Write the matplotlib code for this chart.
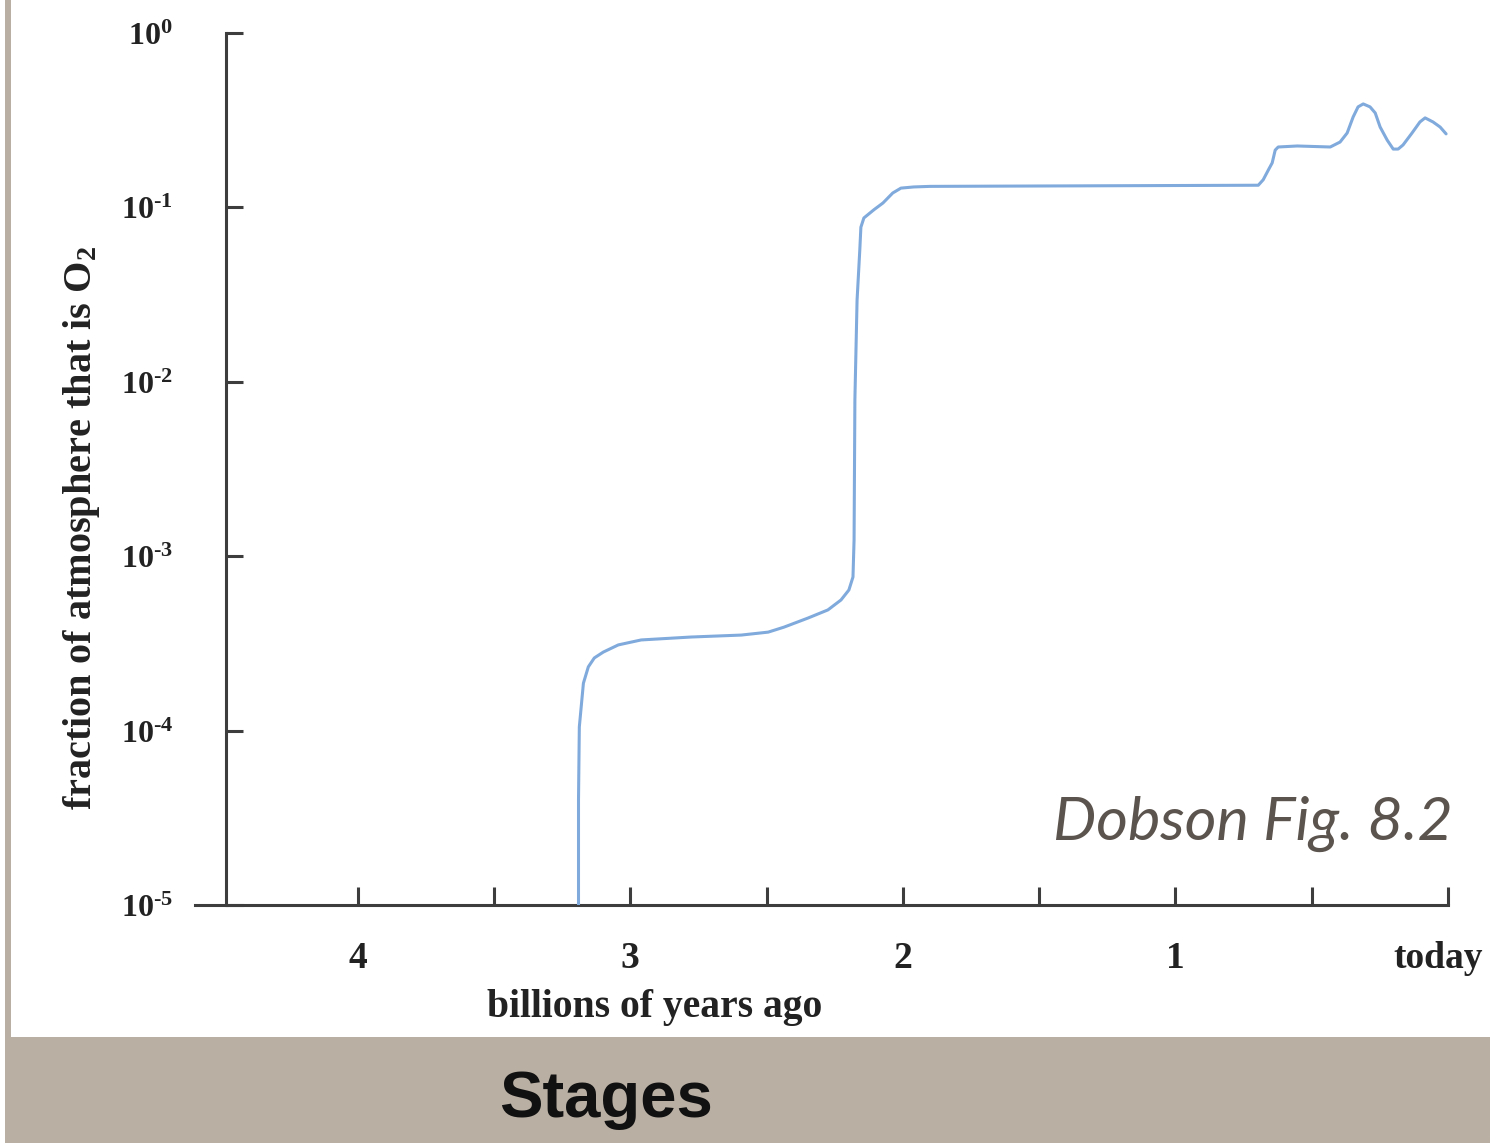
import numpy as np
import matplotlib.pyplot as plt
from matplotlib.patches import Rectangle
import matplotlib.transforms as mtransforms

plt.rcParams['mathtext.fontset'] = 'custom'
plt.rcParams['mathtext.rm'] = 'Liberation Serif:bold'
plt.rcParams['mathtext.it'] = 'Liberation Serif:bold'
plt.rcParams['mathtext.bf'] = 'Liberation Serif:bold'

# oxygen history, age in billions of years ago
age = [3.190, 3.190, 3.187, 3.172, 3.154, 3.132, 3.099, 3.044, 2.960, 2.777,
       2.593, 2.494, 2.436, 2.348, 2.275, 2.227, 2.198, 2.183, 2.179, 2.176,
       2.168, 2.158, 2.154, 2.143, 2.106, 2.073, 2.037, 2.007, 1.960,
       1.900, 0.696, 0.678, 0.659, 0.645, 0.634, 0.623, 0.553, 0.432, 0.396,
       0.370, 0.348, 0.330, 0.311, 0.286, 0.267, 0.249, 0.223, 0.201, 0.183,
       0.165, 0.132, 0.103, 0.084, 0.055, 0.029, 0.007]
o2_frac = [1.0e-5, 4.0e-5, 1.05e-4, 1.87e-4, 2.32e-4, 2.61e-4, 2.82e-4, 3.10e-4, 3.31e-4, 3.44e-4,
           3.53e-4, 3.67e-4, 3.92e-4, 4.42e-4, 4.92e-4, 5.61e-4, 6.40e-4, 7.60e-4, 1.24e-3, 7.9e-3,
           2.94e-2, 0.057, 0.077, 0.087, 0.097, 0.106, 0.121, 0.129, 0.131,
           0.132, 0.134, 0.144, 0.164, 0.180, 0.213, 0.222, 0.225, 0.222, 0.237,
           0.267, 0.330, 0.377, 0.392, 0.377, 0.348, 0.289, 0.243, 0.216, 0.216,
           0.228, 0.267, 0.309, 0.326, 0.309, 0.289, 0.264]

xticks = [4, 3.5, 3, 2.5, 2, 1.5, 1, 0.5, 0]
xticklabels = ['4', '', '3', '', '2', '', '1', '', 'today']
yticks = [1e-5, 1e-4, 1e-3, 1e-2, 1e-1, 1e0]
yticklabels = ['$10^{\u20105}$', '$10^{\u20104}$', '$10^{\u20103}$',
               '$10^{\u20102}$', '$10^{\u20101}$', '$10^{0}$']

W, H = 1490, 1143
fig = plt.figure(figsize=(W / 100, H / 100), dpi=100)
fig.patch.set_facecolor('white')

# beige frame pieces
band = '#b9afa3'
fig.patches.append(Rectangle((5 / W, 0), 6 / W, 1, transform=fig.transFigure,
                             facecolor=band, edgecolor='none', zorder=0))
fig.patches.append(Rectangle((5 / W, 0), 1, (H - 1037) / H, transform=fig.transFigure,
                             facecolor=band, edgecolor='none', zorder=0))

ax = fig.add_axes([195 / W, 1 - 905 / H, (1448 - 195) / W, 872 / H])
ax.set_facecolor('none')
ax.plot(age, o2_frac, color='#80aadc', lw=2.2, solid_capstyle='round',
        solid_joinstyle='round', zorder=3)

ax.set_yscale('log')
ax.set_xlim(4.597, 0)
ax.set_ylim(1e-5, 1)

axcol = '#3d3d3d'
for s in ['top', 'right']:
    ax.spines[s].set_visible(False)
ax.spines['left'].set_position(('data', 4.484))
ax.spines['left'].set_linewidth(2.2)
ax.spines['bottom'].set_linewidth(2.2)
ax.spines['left'].set_color(axcol)
ax.spines['bottom'].set_color(axcol)

ax.set_xticks(xticks)
ax.set_xticklabels(xticklabels, fontfamily='Liberation Serif', fontweight='bold', fontsize=27)
ax.set_yticks(yticks)
ax.set_yticklabels(yticklabels, fontsize=23)
ax.minorticks_off()
ax.tick_params(axis='x', direction='in', length=13, width=2.2, color=axcol, pad=26, labelcolor='#222222')
ax.tick_params(axis='y', direction='in', length=12, width=2.2, color=axcol, pad=38, labelcolor='#222222')

# nudge "today" slightly left
lab = ax.get_xticklabels()[-1]
lab.set_transform(lab.get_transform() + mtransforms.ScaledTranslation(-10 / 100, 0, fig.dpi_scale_trans))

fig.text(655 / W, 1 - 1007 / H, 'billions of years ago', ha='center', va='center',
         fontfamily='Liberation Serif', fontweight='bold', fontsize=28.5, color='#222222')
fig.text(82 / W, 1 - 528 / H, 'fraction of atmosphere that is O$_2$', rotation=90,
         ha='center', va='center', fontfamily='Liberation Serif', fontweight='bold',
         fontsize=29, color='#222222')

fig.text(1453 / W, 1 - 840 / H, 'Dobson Fig. 8.2', ha='right', va='baseline',
         fontfamily='Lato', style='italic', fontsize=44, color='#5b534d')

fig.text(606 / W, 1 - 1100 / H, 'Stages', ha='center', va='center',
         fontfamily='Liberation Sans', fontweight='bold', fontsize=47, color='#111111')

fig.savefig('out.png', dpi=100)
